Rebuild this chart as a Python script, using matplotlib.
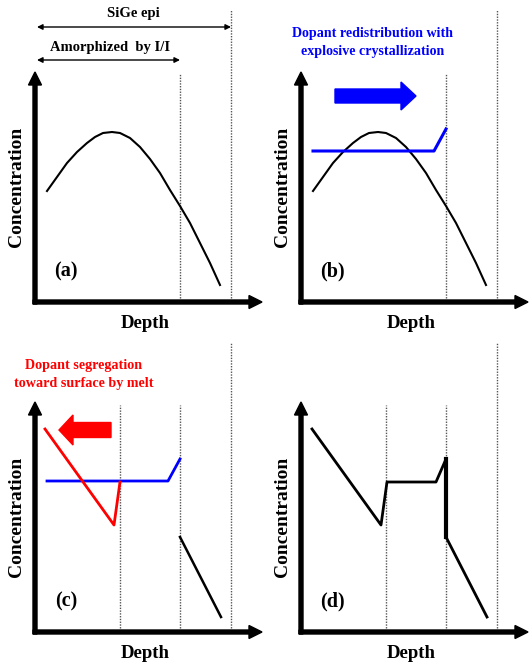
import matplotlib
matplotlib.use("Agg")
import matplotlib.pyplot as plt

plt.rcParams['font.family'] = ['Liberation Serif', 'DejaVu Serif']
plt.rcParams['font.weight'] = 'bold'

# depth / concentration in arbitrary units (origin at axes corner)
amorph_depth = 145
sige_depth = 196
melt_depth = 85

# (a) as-implanted profile
impl_depth = [12, 22, 32, 42, 52, 60, 68, 77, 85, 95, 105, 115, 125, 135,
              145, 155, 165, 175, 185]
impl_conc = [111, 125, 139, 150, 159, 165, 169, 170, 169, 164, 155, 143, 129,
             112, 96, 79, 59, 39, 17]

# (b) redistributed profile after explosive crystallization
redist_depth = [12, 133, 145]
redist_conc = [151, 151, 173]

# (c) segregated profile near the surface
seg_depth = [10, 79, 85]
seg_conc = [203, 107, 150]
tail_depth = [145, 186]
tail_conc = [95, 15]

# (d) final profile
final_depth = [11, 80, 86, 135, 145]
final_conc = [203, 107, 150, 150, 173]
drop_depth = [145, 145, 186]
drop_conc = [173, 95, 15]

fig = plt.figure(figsize=(5.32, 6.65), dpi=100)


def make_panel(rect, ylim, letter, dotted):
    ax = fig.add_axes(rect)
    ax.set_xlim(-35, 231)
    ax.set_ylim(*ylim)
    ax.axis('off')
    ax.arrow(-2, 0, 229, 0, width=4, head_width=13, head_length=13,
             length_includes_head=True, color='black', clip_on=False)
    ax.arrow(0, -2, 0, 232, width=4, head_width=13, head_length=13,
             length_includes_head=True, color='black', clip_on=False)
    for d, top in dotted:
        ax.plot([d, d], [4, top], color='#555555', lw=1, ls=(0, (1, 1)))
    ax.text(-18, 115, 'Concentration', rotation=90, ha='center', va='center',
            fontsize=14, fontweight='bold')
    ax.text(110, -21, 'Depth', ha='center', va='center', fontsize=13.5,
            fontweight='bold')
    ax.text(31, 31, letter, ha='center', va='center', fontsize=14.5,
            fontweight='bold')
    return ax


top_rect = 335 / 665
ax_a = make_panel([0, top_rect, 0.5, 330 / 665], (-28, 302), '(a)',
                  [(amorph_depth, 229), (sige_depth, 292)])
ax_b = make_panel([0.5, top_rect, 0.5, 330 / 665], (-28, 302), '(b)',
                  [(amorph_depth, 229), (sige_depth, 292)])
ax_c = make_panel([0, 0, 0.5, 335 / 665], (-33, 302), '(c)',
                  [(melt_depth, 227), (amorph_depth, 227), (sige_depth, 289)])
ax_d = make_panel([0.5, 0, 0.5, 335 / 665], (-33, 302), '(d)',
                  [(melt_depth, 227), (amorph_depth, 227), (sige_depth, 289)])

# (a)
ax_a.plot(impl_depth, impl_conc, color='black', lw=1.5, solid_joinstyle='round')
ax_a.annotate('', xy=(sige_depth, 275), xytext=(2, 275),
              arrowprops=dict(arrowstyle='<|-|>', color='black', lw=1,
                              mutation_scale=8, shrinkA=0, shrinkB=0))
ax_a.text(98, 288, 'SiGe epi', ha='center', va='center', fontsize=10.5)
ax_a.annotate('', xy=(amorph_depth, 242), xytext=(2, 242),
              arrowprops=dict(arrowstyle='<|-|>', color='black', lw=1,
                              mutation_scale=8, shrinkA=0, shrinkB=0))
ax_a.text(75, 255, 'Amorphized  by I/I', ha='center', va='center', fontsize=10.5)

# (b)
ax_b.plot(impl_depth, impl_conc, color='black', lw=1.5, solid_joinstyle='round')
ax_b.plot(redist_depth, redist_conc, color='#0000ff', lw=2.2)
ax_b.arrow(34, 206, 81, 0, width=14, head_width=28, head_length=15,
           length_includes_head=True, color='#0000ff')
ax_b.text(72, 268, 'Dopant redistribution with', ha='center', va='center',
          fontsize=10.1, color='#0000ff')
ax_b.text(72, 250, 'explosive crystallization', ha='center', va='center',
          fontsize=10.1, color='#0000ff')

# (c)
ax_c.plot(redist_depth, redist_conc, color='#0000ff', lw=2)
ax_c.plot(seg_depth, seg_conc, color='#ff0000', lw=2)
ax_c.plot(tail_depth, tail_conc, color='black', lw=1.8)
ax_c.arrow(76, 202, -52, 0, width=15, head_width=30, head_length=14,
           length_includes_head=True, color='#ff0000')
ax_c.text(49, 267, 'Dopant segregation', ha='center', va='center',
          fontsize=10.2, color='#ff0000')
ax_c.text(49, 249, 'toward surface by melt', ha='center', va='center',
          fontsize=10.2, color='#ff0000')

# (d)
ax_d.plot(final_depth, final_conc, color='black', lw=2)
ax_d.plot(drop_depth[:2], drop_conc[:2], color='black', lw=3)
ax_d.plot(drop_depth[1:], drop_conc[1:], color='black', lw=2)

fig.savefig('out.png', dpi=100)
